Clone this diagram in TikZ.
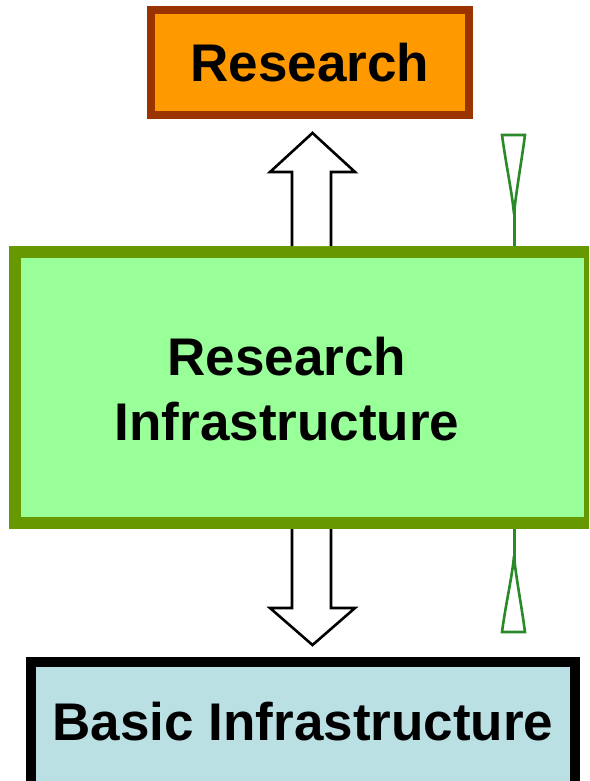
\documentclass[tikz,border=0pt]{standalone}
\usepackage{fontspec}
\setmainfont{Liberation Sans}
\usetikzlibrary{calc}
\definecolor{resfill}{HTML}{FF9900}
\definecolor{resdraw}{HTML}{993300}
\definecolor{infill}{HTML}{99FF99}
\definecolor{indraw}{HTML}{669900}
\definecolor{basfill}{HTML}{BAE0E3}
\definecolor{gmark}{HTML}{2A8A2A}
\tikzset{
  box/.style={rectangle, inner sep=0pt, outer sep=0pt},
  lbl/.style={inner sep=0pt, font=\bfseries\fontsize{53}{65}\selectfont, align=center},
  blockarrow/.style={draw=black, fill=white, line width=2.6pt, line join=miter},
  gline/.style={draw=gmark, line width=2.6pt, fill=white, line join=miter}
}
\begin{document}
\begin{tikzpicture}[x=1pt,y=-1pt]
\useasboundingbox (0,0) rectangle (589,781);
\clip (0,0) rectangle (589,781);
\fill[white] (0,0) rectangle (589,781);
% boxes
\node[box, draw=resdraw, fill=resfill, line width=8pt, minimum width=318pt, minimum height=105pt] (research) at (310,62.5) {};
\node[lbl, anchor=base] (researchlbl) at (310,82) {Research};
\node[box, draw=indraw, fill=infill, line width=12pt, minimum width=575pt, minimum height=271.5pt] (infra) at (302.5,387.25) {};
\node[lbl, anchor=base] (infralbl1) at (287,375) {Research};
\node[lbl, anchor=base] (infralbl2) at (287,440) {Infrastructure};
\node[box, draw=black, fill=basfill, line width=10pt, minimum width=544pt, minimum height=160pt] (basic) at (303,742) {};
\node[lbl, anchor=base] (basiclbl) at (303,740) {Basic Infrastructure};
% up arrow
\draw[blockarrow] (292,246) -- (292,172) -- (270,172) -- (312.5,133) -- (355,172) -- (331,172) -- (331,246);
% down arrow
\draw[blockarrow] (292,529) -- (292,608) -- (270,608) -- (312.5,645) -- (355,608) -- (331,608) -- (331,529);
% green marks
\draw[gline] (502,135) -- (525,135) .. controls (521,165) and (516,192) .. (514,214) .. controls (512,192) and (506,165) .. cycle;
\draw[draw=gmark, line width=3pt] (514,208) -- (514,246);
\draw[gline] (502,632) -- (525,632) .. controls (521,602) and (516,578) .. (514,556) .. controls (512,578) and (506,602) .. cycle;
\draw[draw=gmark, line width=3pt] (514,562) -- (514,529);
\end{tikzpicture}
\end{document}
